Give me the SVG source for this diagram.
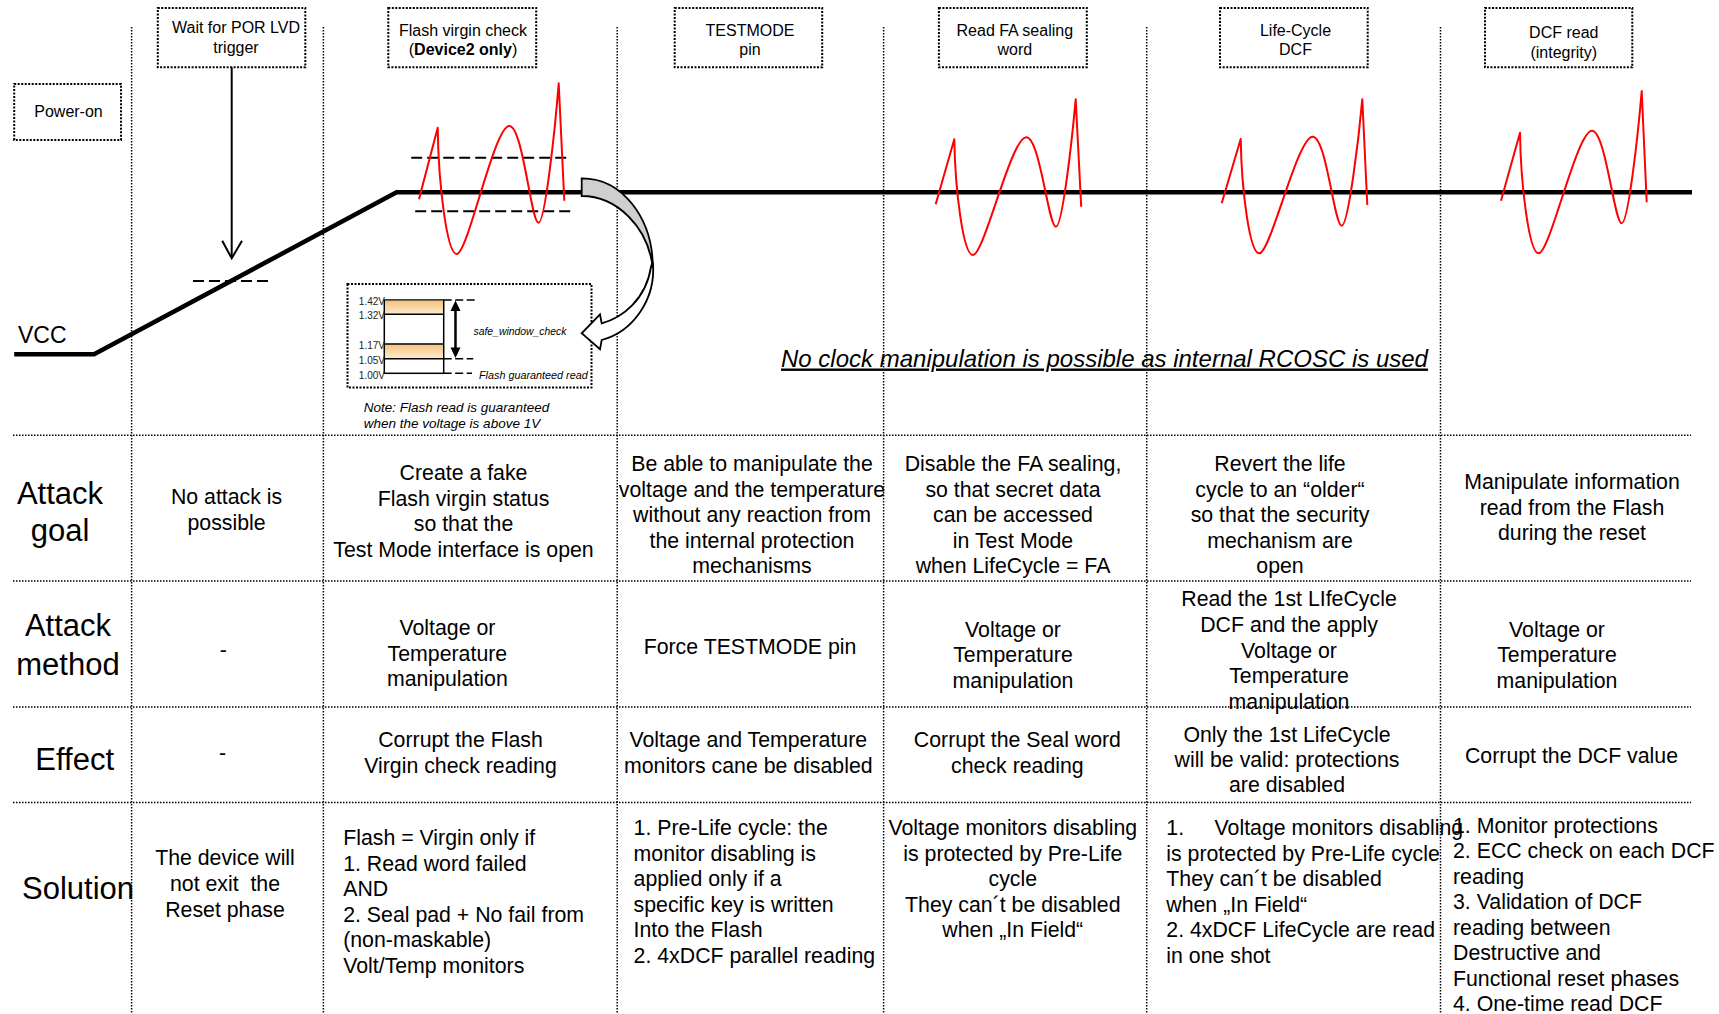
<svg xmlns="http://www.w3.org/2000/svg" width="1719" height="1014" viewBox="0 0 1719 1014">
<defs>
<style>
text { font-family: "Liberation Sans", Arial, sans-serif; fill: #000; }
.hd { font-size: 16px; text-anchor: middle; }
.c { font-size: 21.3px; text-anchor: middle; }
.l { font-size: 21.3px; }
.lab { font-size: 31px; text-anchor: middle; }
.box { fill: none; stroke: #000; stroke-width: 2; stroke-dasharray: 2 1.5; }
.grid { fill: none; stroke: #000; stroke-width: 1.5; stroke-dasharray: 1.5 1.5; }
.wave { fill: none; stroke: #f00; stroke-width: 2; stroke-linejoin: round; }
.dash { fill: none; stroke: #000; stroke-width: 2; stroke-dasharray: 11 5; }
.fine { fill: none; stroke: #000; stroke-width: 1.5; stroke-dasharray: 8 3.5; }
.v { font-size: 10px; text-anchor: end; fill: #222; }
.it { font-style: italic; }
</style>
<linearGradient id="band" x1="0" y1="0" x2="0" y2="1">
<stop offset="0" stop-color="#f6c27c"/>
<stop offset="1" stop-color="#fdebd0"/>
</linearGradient>
</defs>
<rect width="1719" height="1014" fill="#fff"/>

<!-- table grid -->
<g id="grid" class="grid">
<path d="M131.6,27V1014 M323.4,27V1014 M617.2,27V1014 M883.6,27V1014 M1146.7,27V1014 M1440.5,27V1014"/>
<path d="M13,435.2H1691 M13,581H1691 M13,707H1691 M13,802.5H1691"/>
</g>

<!-- phase headers -->
<g id="hdr-poweron">
<rect class="box" x="14.2" y="84" width="106.8" height="56"/>
<text class="hd" x="68.5" y="117.3">Power-on</text>
</g>
<g id="hdr-por">
<rect class="box" x="157.8" y="8" width="147.5" height="59.3"/>
<text class="hd" x="236" y="33.3">Wait for POR LVD</text>
<text class="hd" x="236" y="52.7">trigger</text>
</g>
<g id="hdr-virgin">
<rect class="box" x="388.3" y="8" width="147.9" height="59.3"/>
<text class="hd" x="463" y="36">Flash virgin check</text>
<text class="hd" x="463" y="55">(<tspan font-weight="bold">Device2 only</tspan>)</text>
</g>
<g id="hdr-testmode">
<rect class="box" x="674.7" y="8" width="147.5" height="59.3"/>
<text class="hd" x="750" y="36">TESTMODE</text>
<text class="hd" x="750" y="55">pin</text>
</g>
<g id="hdr-fa">
<rect class="box" x="938.9" y="8" width="147.9" height="59.3"/>
<text class="hd" x="1014.8" y="36">Read FA sealing</text>
<text class="hd" x="1014.8" y="55">word</text>
</g>
<g id="hdr-lifecycle">
<rect class="box" x="1220" y="8" width="147.7" height="59.3"/>
<text class="hd" x="1295.5" y="36">Life-Cycle</text>
<text class="hd" x="1295.5" y="55">DCF</text>
</g>
<g id="hdr-dcf">
<rect class="box" x="1485" y="8" width="147.3" height="59.3"/>
<text class="hd" x="1563.8" y="38.3">DCF read</text>
<text class="hd" x="1563.8" y="58.3">(integrity)</text>
</g>

<!-- supply voltage trace -->
<g id="vcc">
<polyline points="14.2,354.3 94.1,354.3 396.6,192.3 1692,192.3" fill="none" stroke="#000" stroke-width="4.5"/>
<text x="18" y="342.7" font-size="23">VCC</text>
<path class="dash" d="M193,281H271.3"/>
<path class="dash" d="M411.2,157.7H567.4 M415.2,211.3H571.4"/>
</g>

<!-- glitch waveforms -->
<g id="glitches" class="wave">
<path d="M419,199.3 L437.7,127.7 C438.5,185 447,254 456.7,254 C468,254 494,126 509.3,126 C523,126 531,222.7 538.5,222.7 C545,222.7 555,130 558.7,83.3 L564.3,200.7"/>
<path d="M935.7,204.3 L954.3,139.3 C955.1,190 963.2,255 972.9,255 C984.2,255 1011,137.3 1026.3,137.3 C1040,137.3 1048.4,226.7 1055.9,226.7 C1062.4,226.7 1072,140 1075.7,99.3 L1081.2,206.7"/>
<path d="M1221.7,203.3 L1240.7,139 C1241.5,190 1249.6,253.3 1259.3,253.3 C1270.6,253.3 1297.4,136.7 1312.7,136.7 C1326.4,136.7 1334.2,225.7 1341.7,225.7 C1348.2,225.7 1358.6,140 1362.3,99.3 L1367.3,205"/>
<path d="M1501,200.7 L1520,132.7 C1520.8,185 1529,253.3 1538.7,253.3 C1550,253.3 1576.7,130.7 1592,130.7 C1605.7,130.7 1614.2,223.3 1621.7,223.3 C1628.2,223.3 1638,135 1641.7,91 L1646.7,202.3"/>
</g>

<!-- flash voltage window inset -->
<g id="inset">
<rect class="box" x="347.5" y="284" width="244" height="103.5"/>
<rect x="384.3" y="300" width="59.4" height="73.3" fill="#fff" stroke="#000" stroke-width="1.5"/>
<rect x="385" y="300.7" width="58" height="13.6" fill="url(#band)"/>
<rect x="385" y="344.4" width="58" height="14" fill="url(#band)"/>
<path d="M384.3,314.3H443.7 M384.3,344H443.7 M384.3,358.8H443.7" stroke="#000" stroke-width="1.5"/>
<path class="fine" d="M443.7,300H475 M443.7,358.8H473.3 M443.7,373.3H472"/>
<line x1="455.5" y1="309" x2="455.5" y2="349.5" stroke="#000" stroke-width="2.5"/>
<path d="M455.5,300.5 L450.5,311 L460.5,311 Z M455.5,358 L450.5,347.5 L460.5,347.5 Z" fill="#000"/>
<text class="v" x="385" y="305.3">1.42V</text>
<text class="v" x="385" y="318.6">1.32V</text>
<text class="v" x="385" y="349.3">1.17V</text>
<text class="v" x="385" y="364.3">1.05V</text>
<text class="v" x="385" y="379.3">1.00V</text>
<text class="it" x="473.5" y="335" font-size="10.4" fill="#333">safe_window_check</text>
<text class="it" x="479" y="378.5" font-size="10.8" fill="#222">Flash guaranteed read</text>
<text class="it" x="363.8" y="412" font-size="13.5">Note: Flash read is guaranteed</text>
<text class="it" x="363.8" y="427.5" font-size="13.5">when the voltage is above 1V</text>
</g>

<text class="it" x="781" y="366.5" font-size="24" text-decoration="underline">No clock manipulation is possible as internal RCOSC is used</text>

<!-- connectors -->
<g id="connectors">
<line x1="231.7" y1="67.3" x2="231.7" y2="257" stroke="#000" stroke-width="2"/>
<polyline points="222.2,240.7 231.7,258.3 242,240.7" fill="none" stroke="#000" stroke-width="2"/>
<path d="M652.8,262 C656.5,300 632,332 601.7,340 L600,349.3 L581.7,333.3 L600,314.3 L601.7,323.3 C622,318 646,300 651.2,266 Z" fill="#fff" stroke="#000" stroke-width="1.8" stroke-linejoin="miter"/>
<path d="M581.7,178.3 C622,178 653,218 652.8,268 C648,226 616,196 581.7,196 Z" fill="#cfcfcf" stroke="#000" stroke-width="1.8"/>
</g>

<!-- row labels -->
<g id="labels">
<text class="lab" x="60" y="504">Attack</text>
<text class="lab" x="60" y="540.7">goal</text>
<text class="lab" x="68" y="636">Attack</text>
<text class="lab" x="68" y="675">method</text>
<text class="lab" x="74.7" y="770">Effect</text>
<text class="lab" x="78" y="899">Solution</text>
</g>

<!-- attack goal row -->
<g id="goal">
<text class="c"><tspan x="226.6" y="504">No attack is</tspan><tspan x="226.6" y="529.5">possible</tspan></text>
<text class="c"><tspan x="463.5" y="480">Create a fake</tspan><tspan x="463.5" y="505.5">Flash virgin status</tspan><tspan x="463.5" y="531">so that the</tspan><tspan x="463.5" y="556.5">Test Mode interface is open</tspan></text>
<text class="c"><tspan x="752" y="471">Be able to manipulate the</tspan><tspan x="752" y="496.5">voltage and the temperature</tspan><tspan x="752" y="522">without any reaction from</tspan><tspan x="752" y="547.5">the internal protection</tspan><tspan x="752" y="573">mechanisms</tspan></text>
<text class="c"><tspan x="1013" y="471">Disable the FA sealing,</tspan><tspan x="1013" y="496.5">so that secret data</tspan><tspan x="1013" y="522">can be accessed</tspan><tspan x="1013" y="547.5">in Test Mode</tspan><tspan x="1013" y="573">when LifeCycle = FA</tspan></text>
<text class="c"><tspan x="1280" y="471">Revert the life</tspan><tspan x="1280" y="496.5">cycle to an “older“</tspan><tspan x="1280" y="522">so that the security</tspan><tspan x="1280" y="547.5">mechanism are</tspan><tspan x="1280" y="573">open</tspan></text>
<text class="c"><tspan x="1572" y="489.3">Manipulate information</tspan><tspan x="1572" y="514.8">read from the Flash</tspan><tspan x="1572" y="540.3">during the reset</tspan></text>
</g>

<!-- attack method row -->
<g id="method">
<text class="c" x="223.4" y="657">-</text>
<text class="c"><tspan x="447.4" y="635">Voltage or</tspan><tspan x="447.4" y="660.5">Temperature</tspan><tspan x="447.4" y="686">manipulation</tspan></text>
<text class="c" x="750" y="654">Force TESTMODE pin</text>
<text class="c"><tspan x="1013" y="636.7">Voltage or</tspan><tspan x="1013" y="662.2">Temperature</tspan><tspan x="1013" y="687.7">manipulation</tspan></text>
<text class="c"><tspan x="1289" y="606">Read the 1st LIfeCycle</tspan><tspan x="1289" y="632">DCF and the apply</tspan><tspan x="1289" y="657.5">Voltage or</tspan><tspan x="1289" y="683">Temperature</tspan><tspan x="1289" y="708.5">manipulation</tspan></text>
<text class="c"><tspan x="1557" y="636.7">Voltage or</tspan><tspan x="1557" y="662.2">Temperature</tspan><tspan x="1557" y="687.7">manipulation</tspan></text>
</g>

<!-- effect row -->
<g id="effect">
<text class="c" x="222.6" y="760">-</text>
<text class="c"><tspan x="460.5" y="747.3">Corrupt the Flash</tspan><tspan x="460.5" y="772.8">Virgin check reading</tspan></text>
<text class="c"><tspan x="748.3" y="747.3">Voltage and Temperature</tspan><tspan x="748.3" y="772.8">monitors cane be disabled</tspan></text>
<text class="c"><tspan x="1017.4" y="747.3">Corrupt the Seal word</tspan><tspan x="1017.4" y="772.8">check reading</tspan></text>
<text class="c"><tspan x="1287" y="741.7">Only the 1st LifeCycle</tspan><tspan x="1287" y="766.7">will be valid: protections</tspan><tspan x="1287" y="791.7">are disabled</tspan></text>
<text class="c" x="1571.5" y="762.7">Corrupt the DCF value</text>
</g>

<!-- solution row -->
<g id="solution">
<text class="c"><tspan x="225" y="865">The device will</tspan><tspan x="225" y="891">not exit&#160; the</tspan><tspan x="225" y="916.7">Reset phase</tspan></text>
<text class="l"><tspan x="343.2" y="845">Flash = Virgin only if</tspan><tspan x="343.2" y="870.5">1. Read word failed</tspan><tspan x="343.2" y="896">AND</tspan><tspan x="343.2" y="921.5">2. Seal pad + No fail from</tspan><tspan x="343.2" y="947">(non-maskable)</tspan><tspan x="343.2" y="972.5">Volt/Temp monitors</tspan></text>
<text class="l"><tspan x="633.6" y="835">1. Pre-Life cycle: the</tspan><tspan x="633.6" y="860.5">monitor disabling is</tspan><tspan x="633.6" y="886">applied only if a</tspan><tspan x="633.6" y="911.5">specific key is written</tspan><tspan x="633.6" y="937">Into the Flash</tspan><tspan x="633.6" y="962.5">2. 4xDCF parallel reading</tspan></text>
<text class="c"><tspan x="1012.8" y="835">Voltage monitors disabling</tspan><tspan x="1012.8" y="860.5">is protected by Pre-Life</tspan><tspan x="1012.8" y="886">cycle</tspan><tspan x="1012.8" y="911.5">They can´t be disabled</tspan><tspan x="1012.8" y="937">when „In Field“</tspan></text>
<text class="l"><tspan x="1166.3" y="835">1.</tspan><tspan x="1214.6" y="835">Voltage monitors disabling</tspan><tspan x="1166.3" y="860.5">is protected by Pre-Life cycle</tspan><tspan x="1166.3" y="886">They can´t be disabled</tspan><tspan x="1166.3" y="911.5">when „In Field“</tspan><tspan x="1166.3" y="937">2. 4xDCF LifeCycle are read</tspan><tspan x="1166.3" y="962.5">in one shot</tspan></text>
<text class="l"><tspan x="1453" y="832.7">1. Monitor protections</tspan><tspan x="1453" y="858">2. ECC check on each DCF</tspan><tspan x="1453" y="883.5">reading</tspan><tspan x="1453" y="909">3. Validation of DCF</tspan><tspan x="1453" y="934.5">reading between</tspan><tspan x="1453" y="960">Destructive and</tspan><tspan x="1453" y="985.5">Functional reset phases</tspan><tspan x="1453" y="1011">4. One-time read DCF</tspan></text>
</g>
</svg>
